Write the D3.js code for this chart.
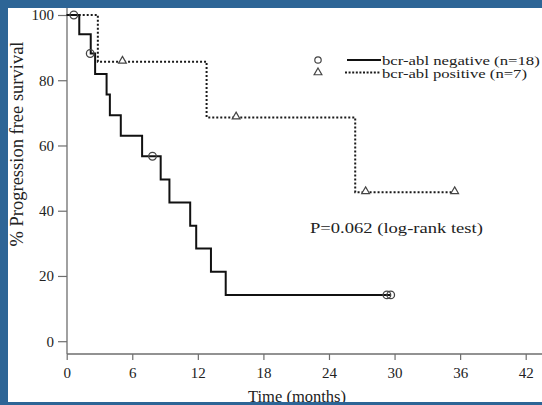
<!DOCTYPE html>
<html>
<head>
<meta charset="utf-8">
<script src="https://cdn.jsdelivr.net/npm/d3@7"></script>
<style>
  html, body { margin: 0; padding: 0; background: #2d6596; }
  svg { display: block; }
  text { font-family: "Liberation Serif", "Times New Roman", serif; }
</style>
</head>
<body>
<svg id="chart" width="542" height="405"></svg>
<script>
// Kaplan-Meier step values (months, % progression free)
const negTime = [0, 1.15, 2.2, 2.6, 3.65, 3.95, 4.95, 6.9, 8.6, 9.4, 11.3, 11.85, 13.2, 14.55, 29.65];
const negSurv = [100, 94.1, 88.2, 81.9, 75.6, 69.3, 63.0, 56.7, 49.6, 42.5, 35.4, 28.4, 21.3, 14.2, 14.2];
const negCensorTime = [0.65, 2.15, 7.85, 29.3, 29.65];
const negCensorSurv = [100, 88.2, 56.7, 14.2, 14.2];

const posTime = [0, 2.85, 12.8, 26.4, 35.5];
const posSurv = [100, 85.7, 68.6, 45.7, 45.7];
const posCensorTime = [5.1, 15.5, 27.35, 35.5];
const posCensorSurv = [85.7, 68.6, 45.7, 45.7];

const xTicks = [0, 6, 12, 18, 24, 30, 36, 42];
const yTicks = [0, 20, 40, 60, 80, 100];
const legendLabels = ["bcr-abl negative (n=18)", "bcr-abl positive (n=7)"];
const pText = "P=0.062 (log-rank test)";
const xTitle = "Time (months)";
const yTitle = "% Progression free survival";

const svg = d3.select("#chart");
const W = 542, H = 405;
const blue = "#2d6596";
const ink = "#222";
const serif = "'Liberation Serif', 'Times New Roman', serif";

// stretch a text horizontally so that it spans the given width
function fitWidth(sel, x0, y0, width) {
  const w = sel.node().getComputedTextLength();
  sel.attr("x", 0).attr("y", 0)
    .attr("transform", `translate(${x0},${y0}) scale(${width / w},1)`);
}

// white panel
svg.append("rect").attr("x", 0).attr("y", 0).attr("width", W).attr("height", H).attr("fill", "#ffffff");

const x = d3.scaleLinear().domain([0, 42]).range([66.7, 525.7]);
const y = d3.scaleLinear().domain([0, 100]).range([341.2, 15]);
const axisColor = "#6e6e6e";
const axisY = 354, axisX = 67;

// axes lines
svg.append("line").attr("x1", axisX).attr("x2", axisX).attr("y1", 0).attr("y2", axisY)
  .attr("stroke", axisColor).attr("stroke-width", 1.3);
svg.append("line").attr("x1", axisX).attr("x2", W).attr("y1", axisY).attr("y2", axisY)
  .attr("stroke", axisColor).attr("stroke-width", 1.3);

// x axis ticks and labels
const xAxis = d3.axisBottom(x).tickValues(xTicks).tickSize(6).tickPadding(7).tickFormat(d3.format("d"));
const gx = svg.append("g").attr("transform", `translate(0,${axisY})`).call(xAxis);
gx.attr("font-family", null);
gx.select(".domain").remove();
gx.selectAll(".tick line").attr("stroke", axisColor).attr("stroke-width", 1.2);
gx.selectAll(".tick text").attr("font-size", 15).attr("fill", ink).style("font-family", serif);

// y axis ticks and labels
const yAxis = d3.axisLeft(y).tickValues(yTicks).tickSize(9).tickPadding(4).tickFormat(d3.format("d"));
const gy = svg.append("g").attr("transform", `translate(${axisX},0)`).call(yAxis);
gy.attr("font-family", null);
gy.select(".domain").remove();
gy.selectAll(".tick line").attr("stroke", axisColor).attr("stroke-width", 1.2);
gy.selectAll(".tick text").attr("font-size", 15).attr("fill", ink).style("font-family", serif);

// survival curves
const line = d3.line().x(d => x(d[0])).y(d => y(d[1])).curve(d3.curveStepAfter);
const negData = negTime.map((t, i) => [t, negSurv[i]]);
const posData = posTime.map((t, i) => [t, posSurv[i]]);

svg.append("path").datum(posData).attr("d", line)
  .attr("fill", "none").attr("stroke", "#1a1a1a").attr("stroke-width", 2)
  .attr("stroke-dasharray", "2,2");
svg.append("path").datum(negData).attr("d", line)
  .attr("fill", "none").attr("stroke", "#111").attr("stroke-width", 2);

// censor marks
const sym = "#444";
svg.append("g").selectAll("circle").data(negCensorTime.map((t, i) => [t, negCensorSurv[i]]))
  .join("circle").attr("cx", d => x(d[0])).attr("cy", d => y(d[1])).attr("r", 3.8)
  .attr("fill", "none").attr("stroke", sym).attr("stroke-width", 1.3);
const tri = d3.symbol().type(d3.symbolTriangle).size(26);
svg.append("g").selectAll("path").data(posCensorTime.map((t, i) => [t, posCensorSurv[i]]))
  .join("path").attr("d", tri).attr("transform", d => `translate(${x(d[0])},${y(d[1]) - 0.8})`)
  .attr("fill", "#fff").attr("stroke", sym).attr("stroke-width", 1.2);

// legend
const lg = svg.append("g");
lg.append("circle").attr("cx", 318).attr("cy", 60).attr("r", 3.2)
  .attr("fill", "none").attr("stroke", sym).attr("stroke-width", 1.2);
lg.append("path").attr("d", tri).attr("transform", "translate(318,72.5)")
  .attr("fill", "none").attr("stroke", sym).attr("stroke-width", 1.2);
lg.append("line").attr("x1", 347).attr("x2", 381).attr("y1", 60).attr("y2", 60)
  .attr("stroke", "#111").attr("stroke-width", 2);
lg.append("line").attr("x1", 345).attr("x2", 381).attr("y1", 72.5).attr("y2", 72.5)
  .attr("stroke", "#1a1a1a").attr("stroke-width", 2).attr("stroke-dasharray", "2,1.6");
const legendWidths = [158, 145];
legendLabels.forEach((label, i) => {
  const t = lg.append("text").style("font-family", serif)
    .attr("font-size", 12.5).attr("fill", ink).text(label);
  fitWidth(t, 382, 64.5 + i * 13, legendWidths[i]);
});

// p value
const pt = svg.append("text").style("font-family", serif).attr("font-size", 14.5)
  .attr("fill", ink).text(pText);
fitWidth(pt, 310, 233, 173);

// axis titles
svg.append("text").attr("x", 297).attr("y", 402).attr("text-anchor", "middle")
  .style("font-family", serif).attr("font-size", 16.5).attr("fill", ink).text(xTitle);
svg.append("text").attr("transform", "translate(22.5,144) rotate(-90)").attr("text-anchor", "middle")
  .style("font-family", serif).attr("font-size", 18.5).attr("fill", ink).text(yTitle);

// frame
svg.append("rect").attr("x", 0).attr("y", 0).attr("width", W).attr("height", 8).attr("fill", blue);
svg.append("rect").attr("x", 0).attr("y", 0).attr("width", 8).attr("height", H).attr("fill", blue);
svg.append("rect").attr("x", 0).attr("y", 402).attr("width", W).attr("height", 3).attr("fill", blue);
</script>
</body>
</html>
